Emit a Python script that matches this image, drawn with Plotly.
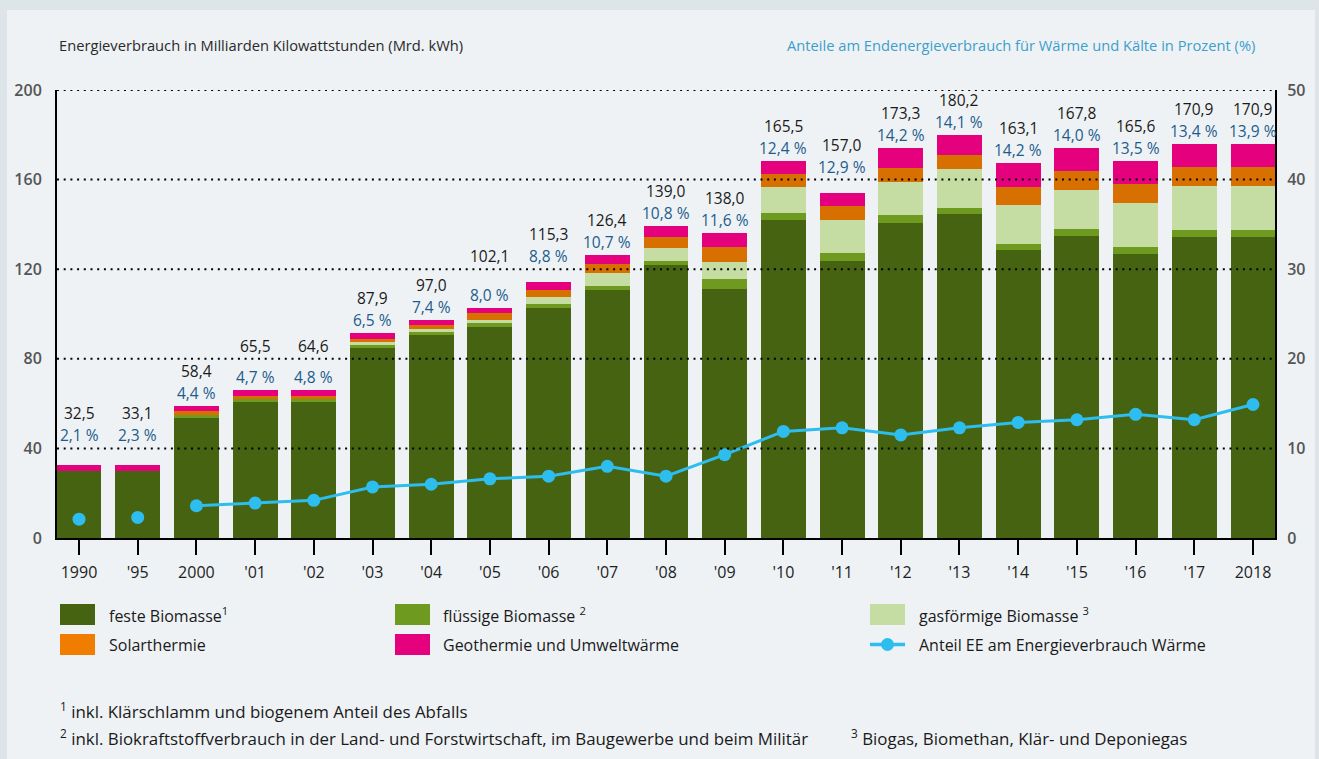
import plotly.graph_objects as go

# ---------------- data ----------------
years = ["1990", "'95", "2000", "'01", "'02", "'03", "'04", "'05", "'06", "'07", "'08",
         "'09", "'10", "'11", "'12", "'13", "'14", "'15", "'16", "'17", "2018"]

feste = [30.0, 30.0, 53.7, 60.9, 60.9, 84.8, 90.8, 94.2, 102.7, 110.7, 122.0,
         111.2, 142.0, 123.7, 140.6, 144.6, 128.6, 134.9, 126.8, 134.4, 134.4]
fluessig = [0, 0, 1.2, 1.2, 1.2, 1.3, 1.3, 1.8, 1.8, 1.8, 1.8,
            4.4, 3.1, 3.5, 3.6, 2.7, 2.7, 3.1, 3.1, 3.1, 3.1]
gas = [0, 0, 0, 0, 0, 1.4, 1.2, 1.3, 3.1, 5.8, 5.8,
       7.6, 11.6, 14.8, 14.7, 17.4, 17.4, 17.4, 19.7, 19.6, 19.6]
solar = [0, 0, 1.8, 1.3, 1.3, 1.3, 1.8, 3.1, 3.1, 4.0, 4.9,
         6.7, 5.8, 6.2, 6.3, 6.3, 8.0, 8.4, 8.4, 8.5, 8.5]
geo = [2.6, 2.7, 2.2, 2.7, 2.7, 2.7, 2.2, 2.3, 3.6, 4.2, 4.9,
       6.3, 5.8, 5.8, 8.9, 8.9, 10.7, 10.3, 10.3, 10.3, 10.3]

anteil = [2.1, 2.3, 3.6, 3.9, 4.2, 5.7, 6.0, 6.6, 6.9, 8.0, 6.9,
          9.3, 11.9, 12.3, 11.5, 12.3, 12.9, 13.2, 13.8, 13.2, 14.9]

total_labels = [32.5, 33.1, 58.4, 65.5, 64.6, 87.9, 97.0, 102.1, 115.3, 126.4, 139.0,
                138.0, 165.5, 157.0, 173.3, 180.2, 163.1, 167.8, 165.6, 170.9, 170.9]
pct_labels = [2.1, 2.3, 4.4, 4.7, 4.8, 6.5, 7.4, 8.0, 8.8, 10.7, 10.8,
              11.6, 12.4, 12.9, 14.2, 14.1, 14.2, 14.0, 13.5, 13.4, 13.9]

left_ticks = [0, 40, 80, 120, 160, 200]
right_ticks = [0, 10, 20, 30, 40, 50]

# ---------------- styles ----------------
FONT = "Open Sans"
C_FESTE = "#466312"
C_FLUESSIG = "#6e9a1f"
C_GAS = "#c5dda3"
C_SOLAR = "#d77000"
C_SOLAR_LEG = "#f07d00"
C_GEO = "#e5007d"
C_LINE = "#2dbdee"
C_PCT = "#1d5c8c"

W, H = 1319, 759
L, R, T, B = 57, 1275, 90, 538
YMAX = 200


def px(x):
    return (x - L) / (R - L)


def py(y):
    return (B - y) / (B - T)


def val_to_pix(v):
    return B - v / YMAX * (B - T)


def de(v):
    return f"{v:.1f}".replace(".", ",")


fig = go.Figure()

series = [
    ("feste Biomasse", feste, C_FESTE),
    ("flüssige Biomasse", fluessig, C_FLUESSIG),
    ("gasförmige Biomasse", gas, C_GAS),
    ("Solarthermie", solar, C_SOLAR),
    ("Geothermie und Umweltwärme", geo, C_GEO),
]
for name, vals, col in series:
    fig.add_trace(go.Bar(x=years, y=vals, name=name, marker=dict(color=col, line=dict(width=0)),
                         showlegend=False, yaxis="y"))

# share line (first two points isolated)
fig.add_trace(go.Scatter(x=years[:2], y=anteil[:2], mode="markers", yaxis="y2",
                         marker=dict(color=C_LINE, size=13), showlegend=False))
fig.add_trace(go.Scatter(x=years[2:], y=anteil[2:], mode="lines+markers", yaxis="y2",
                         line=dict(color=C_LINE, width=3),
                         marker=dict(color=C_LINE, size=13), showlegend=False))

shapes = []
annotations = []

# panel background
shapes.append(dict(type="rect", xref="paper", yref="paper", x0=px(7), x1=px(1315), y0=py(759), y1=py(10),
                   fillcolor="#eef2f5", line=dict(width=0), layer="below"))

# dotted gridlines above bars
for v in left_ticks[1:]:
    shapes.append(dict(type="line", xref="paper", yref="y", x0=0, x1=1, y0=v, y1=v,
                       line=dict(color="black", width=2, dash="2px,4.7px"), layer="above"))

# bar labels: placed above the stack, nudged up to stay clear of the dotted gridlines
grid_pix = [val_to_pix(v) for v in left_ticks[1:]]


def clear_of_grid(center):
    for g in grid_pix:
        if abs(center - g) < 9:
            return g - 13
    return center


stack_tops = [a + b + c + d + e for a, b, c, d, e in zip(feste, fluessig, gas, solar, geo)]
for i, (top, tl, pl) in enumerate(zip(stack_tops, total_labels, pct_labels)):
    top_pix = val_to_pix(top)
    pct_c = clear_of_grid(top_pix - 13)
    tot_c = clear_of_grid(pct_c - 22)
    annotations.append(dict(x=i, y=top, xref="x", yref="y", text=de(tl), showarrow=False,
                            yanchor="middle", yshift=top_pix - tot_c,
                            font=dict(family=FONT, size=15.5, color="#1a1a1a")))
    annotations.append(dict(x=i, y=top, xref="x", yref="y", text=de(pl) + " %", showarrow=False,
                            yanchor="middle", yshift=top_pix - pct_c,
                            font=dict(family=FONT, size=15.5, color=C_PCT)))

# axis titles
annotations.append(dict(x=px(57), y=py(45), xref="paper", yref="paper", xanchor="left", yanchor="middle",
                        text="Energieverbrauch in Milliarden Kilowattstunden (Mrd. kWh)", showarrow=False,
                        font=dict(family=FONT, size=14.7, color="#2a2a2a")))
annotations.append(dict(x=px(1257), y=py(45), xref="paper", yref="paper", xanchor="right", yanchor="middle",
                        text="Anteile am Endenergieverbrauch für Wärme und Kälte in Prozent (%)", showarrow=False,
                        font=dict(family=FONT, size=14.7, color="#3d9fcb")))

# legend (manual)
legend_items = [
    ("feste Biomasse<sup>1</sup>", C_FESTE, 0, 0),
    ("flüssige Biomasse <sup>2</sup>", C_FLUESSIG, 1, 0),
    ("gasförmige Biomasse <sup>3</sup>", C_GAS, 2, 0),
    ("Solarthermie", C_SOLAR_LEG, 0, 1),
    ("Geothermie und Umweltwärme", C_GEO, 1, 1),
    ("Anteil EE am Energieverbrauch Wärme", None, 2, 1),
]
sq_x = [60, 395, 870]
tx_x = [107, 441, 917]
row_y = [614.5, 644.5]
for label, col, c, r in legend_items:
    yc = row_y[r]
    if col is not None:
        shapes.append(dict(type="rect", xref="paper", yref="paper", x0=px(sq_x[c]), x1=px(sq_x[c] + 35),
                           y0=py(yc + 10.5), y1=py(yc - 10.5), fillcolor=col, line=dict(width=0)))
    else:
        shapes.append(dict(type="line", xref="paper", yref="paper", x0=px(sq_x[c]), x1=px(sq_x[c] + 35),
                           y0=py(yc), y1=py(yc), line=dict(color=C_LINE, width=3.5)))
        xc = sq_x[c] + 17.5
        shapes.append(dict(type="circle", xref="paper", yref="paper", x0=px(xc - 6.5), x1=px(xc + 6.5),
                           y0=py(yc + 6.5), y1=py(yc - 6.5), fillcolor=C_LINE, line=dict(width=0)))
    annotations.append(dict(x=px(tx_x[c]), y=py(yc), xref="paper", yref="paper", xanchor="left",
                            yanchor="middle", text=label, showarrow=False,
                            font=dict(family=FONT, size=16, color="#1a1a1a")))

# footnotes
footnotes = [
    ("<sup>1</sup> inkl. Klärschlamm und biogenem Anteil des Abfalls", 58, 710),
    ("<sup>2</sup> inkl. Biokraftstoffverbrauch in der Land- und Forstwirtschaft, im Baugewerbe und beim Militär", 58, 737),
    ("<sup>3</sup> Biogas, Biomethan, Klär- und Deponiegas", 849, 737),
]
for text, x, y in footnotes:
    annotations.append(dict(x=px(x), y=py(y), xref="paper", yref="paper", xanchor="left", yanchor="middle",
                            text=text, showarrow=False, font=dict(family=FONT, size=16.9, color="#1a1a1a")))

fig.update_layout(
    width=W, height=H,
    barmode="stack", bargap=0.235,
    paper_bgcolor="#dde5e9", plot_bgcolor="rgba(0,0,0,0)",
    margin=dict(l=L, r=W - R, t=T, b=H - B, pad=0),
    font=dict(family=FONT),
    xaxis=dict(type="category", range=[-0.375, 20.375], showgrid=False, showline=True,
               linecolor="black", linewidth=2, ticks="outside", ticklen=15, tickwidth=1.5,
               tickcolor="black", ticklabelstandoff=4,
               tickfont=dict(family=FONT, size=16, color="#222222"), zeroline=False),
    yaxis=dict(range=[0, YMAX], tickvals=left_ticks, showgrid=False, showline=True, linecolor="black",
               linewidth=2, ticks="", zeroline=False, ticklabelstandoff=10,
               tickfont=dict(family=FONT, size=16, color="#555555", weight=600)),
    yaxis2=dict(range=[0, 50], tickvals=right_ticks, overlaying="y", side="right", showgrid=False,
                showline=True, linecolor="black", linewidth=2, ticks="", zeroline=False,
                ticklabelstandoff=7,
                tickfont=dict(family=FONT, size=16, color="#555555", weight=600)),
    shapes=shapes,
    annotations=annotations,
    showlegend=False,
)

fig.write_html("out.html", config={"displayModeBar": False},
               post_script="document.body.style.margin='0px';document.body.style.background='#dde5e9';")
